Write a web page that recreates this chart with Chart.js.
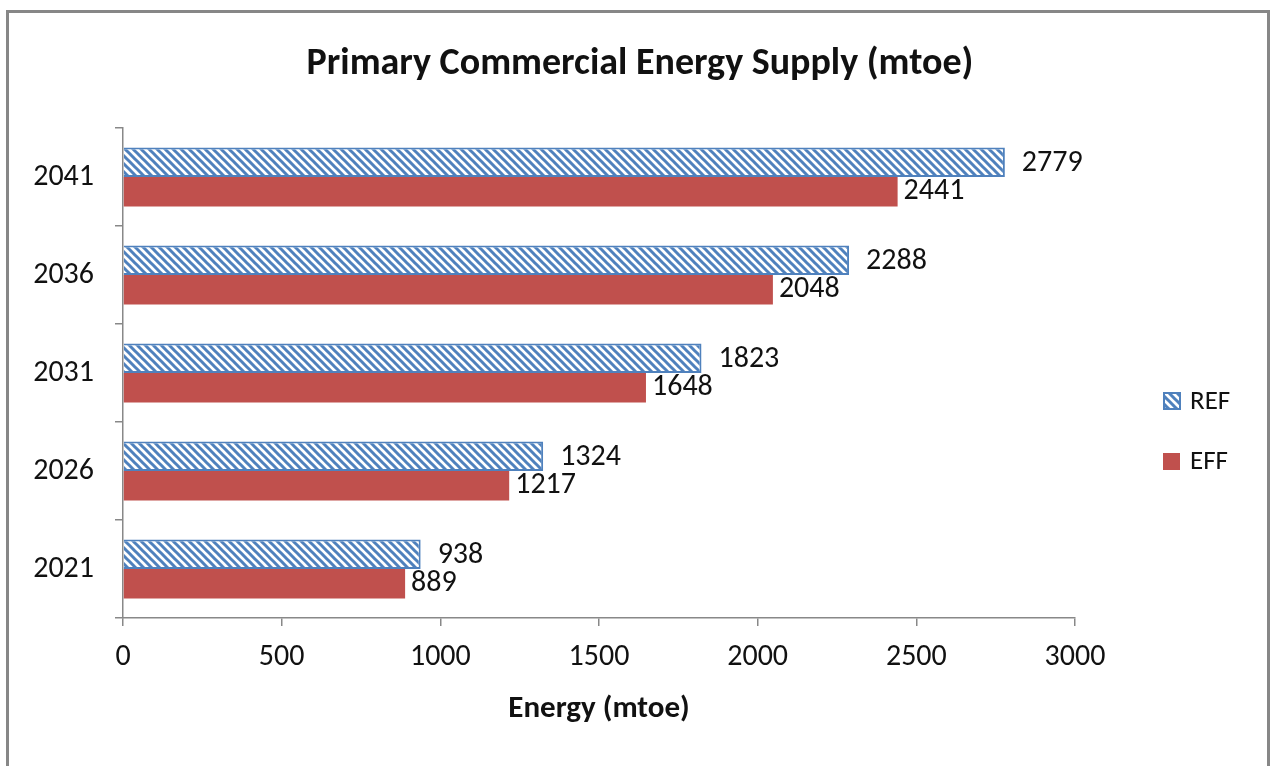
<!DOCTYPE html>
<html>
<head>
<meta charset="utf-8">
<script src="https://cdn.jsdelivr.net/npm/chart.js@4.4.1/dist/chart.umd.min.js"></script>
<style>
    html, body { margin: 0; padding: 0; background: #fff; overflow: hidden; }
    #frame {
        position: absolute; left: 6px; top: 10px; width: 1264px; height: 800px;
        box-sizing: border-box; border: 3px solid #878787;
    }
    #wrap { position: absolute; left: 0; top: 0; width: 1270px; height: 766px; }
</style>
</head>
<body>
<div id="frame"></div>
<div id="wrap"><canvas id="chart" width="1270" height="766"></canvas></div>
<script>
const years = ['2021', '2026', '2031', '2036', '2041'];
const refValues = [938, 1324, 1823, 2288, 2779];
const effValues = [889, 1217, 1648, 2048, 2441];
const xTicks = [0, 500, 1000, 1500, 2000, 2500, 3000];

const FONT = 'Calibri, Carlito, Lato, sans-serif';
const AXIS_GREY = '#888888';
const TITLE = 'Primary Commercial Energy Supply (mtoe)';

// diagonal hatch used for the REF bars
function makeHatch() {
    const c = document.createElement('canvas');
    c.width = 8; c.height = 8;
    const g = c.getContext('2d');
    g.fillStyle = '#ffffff';
    g.fillRect(0, 0, 8, 8);
    g.strokeStyle = '#4f81bd';
    g.lineWidth = 3;
    g.beginPath();
    g.moveTo(-2, -2); g.lineTo(10, 10);
    g.moveTo(-6, 2); g.lineTo(2, 10);
    g.moveTo(6, -2); g.lineTo(14, 6);
    g.stroke();
    return document.getElementById('chart').getContext('2d').createPattern(c, 'repeat');
}

// heading centred over the whole canvas (legend column included)
const heading = {
    id: 'heading',
    afterDraw(chart) {
        const ctx = chart.ctx;
        ctx.save();
        ctx.font = 'bold 38px ' + FONT;
        ctx.fillStyle = '#111';
        ctx.textAlign = 'center';
        ctx.textBaseline = 'alphabetic';
        ctx.fillText(TITLE, chart.width / 2 + 5, 74);
        ctx.restore();
    }
};

// value labels at the end of each bar
const barValues = {
    id: 'barValues',
    afterDatasetsDraw(chart) {
        const ctx = chart.ctx;
        ctx.save();
        ctx.font = '30px ' + FONT;
        ctx.fillStyle = '#111';
        ctx.textAlign = 'left';
        ctx.textBaseline = 'middle';
        chart.data.datasets.forEach((ds, i) => {
            const meta = chart.getDatasetMeta(i);
            meta.data.forEach((bar, j) => {
                ctx.fillText(String(ds.data[j]), bar.x + ds.labelGap, bar.y + ds.labelShift);
            });
        });
        ctx.restore();
    }
};

// legend on the right side
const sideLegend = {
    id: 'sideLegend',
    afterDraw(chart) {
        const ctx = chart.ctx;
        const x = chart.chartArea.right + 88;
        const rows = [401, 461];
        ctx.save();
        ctx.font = '27px ' + FONT;
        ctx.textBaseline = 'middle';
        ctx.textAlign = 'left';
        chart.data.datasets.forEach((ds, i) => {
            const y = rows[i];
            ctx.fillStyle = ds.backgroundColor;
            if (ds.borderWidth) {
                ctx.fillRect(x, y - 9, 18, 18);
                ctx.strokeStyle = ds.borderColor;
                ctx.lineWidth = 2;
                ctx.strokeRect(x + 1, y - 8, 16, 16);
            } else {
                ctx.fillRect(x, y - 8, 17, 17);
            }
            ctx.fillStyle = '#111';
            ctx.fillText(ds.label, x + 27, y + 1);
        });
        ctx.restore();
    }
};

new Chart(document.getElementById('chart'), {
    type: 'bar',
    data: {
        labels: years,
        datasets: [{
            label: 'REF',
            data: refValues,
            backgroundColor: makeHatch(),
            borderColor: '#4f81bd',
            borderWidth: 2,
            labelGap: 17,
            labelShift: 1
        }, {
            label: 'EFF',
            data: effValues,
            backgroundColor: '#c0504d',
            borderWidth: 0,
            labelGap: 6,
            labelShift: 0
        }]
    },
    options: {
        indexAxis: 'y',
        responsive: false,
        animation: false,
        categoryPercentage: 0.6,
        barPercentage: 1.0,
        layout: { padding: { left: 0, right: 195, top: 128, bottom: 0 } },
        plugins: {
            legend: { display: false },
            tooltip: { enabled: false },
            title: { display: false }
        },
        scales: {
            x: {
                min: 0,
                max: 3000,
                afterBuildTicks(scale) { scale.ticks = xTicks.map(v => ({ value: v })); },
                afterFit(scale) { scale.height = 148; },
                border: { color: AXIS_GREY, width: 1.5 },
                grid: { drawOnChartArea: false, color: AXIS_GREY, lineWidth: 1.5, tickLength: 8 },
                ticks: {
                    color: '#111',
                    font: { family: FONT, size: 30 },
                    padding: 13,
                    callback: v => String(v)
                },
                title: {
                    display: true,
                    text: 'Energy (mtoe)',
                    color: '#111',
                    font: { family: FONT, size: 31, weight: 'bold' },
                    padding: { top: 0, bottom: 38 }
                }
            },
            y: {
                reverse: true,
                afterFit(scale) { scale.width = 123; },
                border: { color: AXIS_GREY, width: 1.5 },
                grid: { drawOnChartArea: false, color: AXIS_GREY, lineWidth: 1.5, tickLength: 8 },
                ticks: { color: '#111', font: { family: FONT, size: 30 }, padding: 21 }
            }
        }
    },
    plugins: [heading, barValues, sideLegend]
});
</script>
</body>
</html>
